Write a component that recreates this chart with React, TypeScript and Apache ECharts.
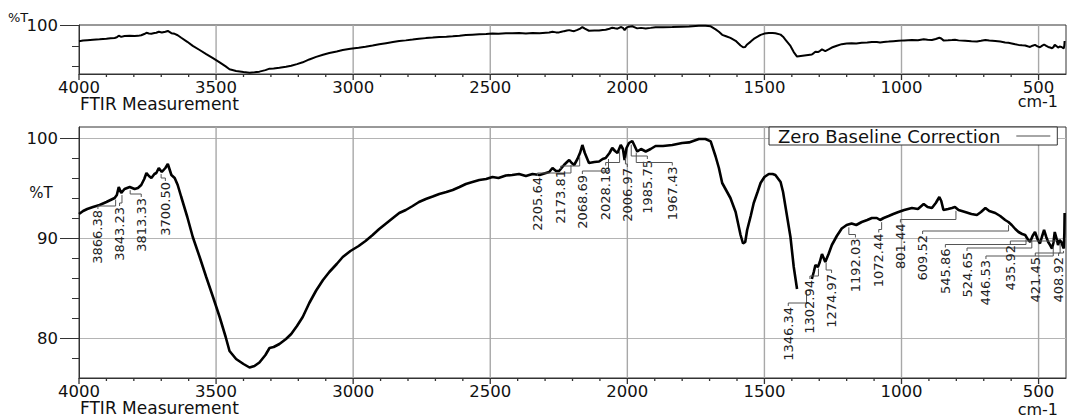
import React, { useEffect, useRef } from "react";
import * as echarts from "echarts";

// ---- spectrum (wavenumber cm-1, %T) ----
const wavenumbers: number[] = [
  4000, 3985, 3970, 3949, 3925, 3900, 3885, 3870, 3862, 3855, 3846, 3834, 3815, 3797, 3785, 3773,
  3762, 3754, 3745, 3736, 3725, 3718, 3709, 3698, 3685, 3676, 3663, 3651, 3640, 3627, 3605, 3585,
  3560, 3536, 3510, 3487, 3465, 3451, 3427, 3400, 3378, 3360, 3342, 3320, 3305, 3290, 3269, 3245,
  3226, 3205, 3184, 3160, 3135, 3110, 3087, 3060, 3038, 3010, 2980, 2955, 2929, 2905, 2880, 2855,
  2832, 2808, 2783, 2760, 2735, 2710, 2686, 2660, 2637, 2612, 2589, 2565, 2540, 2515, 2492, 2470,
  2443, 2420, 2395, 2370, 2346, 2320, 2297, 2285, 2273, 2260, 2249, 2240, 2231, 2220, 2212, 2203,
  2194, 2182, 2172, 2164, 2155, 2140, 2120, 2103, 2090, 2079, 2065, 2055, 2045, 2036, 2024, 2016,
  2010, 2003, 1994, 1982, 1975, 1964, 1950, 1933, 1915, 1897, 1870, 1836, 1800, 1775, 1739, 1715,
  1696, 1678, 1666, 1654, 1640, 1624, 1605, 1587, 1578, 1570, 1563, 1550, 1539, 1525, 1514, 1500,
  1484, 1470, 1460, 1441, 1432, 1423, 1414, 1405, 1393, 1381, 1365, 1327, 1320, 1314, 1305, 1298,
  1290, 1278, 1266, 1254, 1236, 1218, 1200, 1182, 1165, 1145, 1125, 1108, 1090, 1078, 1065, 1047,
  1030, 1011, 990, 962, 940, 919, 905, 889, 875, 862, 855, 847, 830, 816, 805, 792,
  768, 745, 725, 710, 694, 680, 658, 640, 622, 610, 598, 585, 573, 560, 549, 540,
  531, 522, 513, 504, 495, 488, 480, 472, 465, 458, 451, 446, 441, 435, 429, 423,
  417, 412, 408, 406, 405,
];
const transmittance: (number | null)[] = [
  92.4, 92.7, 92.9, 93.1, 93.3, 93.6, 93.8, 94.0, 94.3, 95.1, 94.5, 94.9, 95.1, 94.9, 95.0, 95.3,
  95.9, 96.5, 96.2, 96.0, 96.4, 96.5, 97.0, 96.6, 97.0, 97.4, 96.3, 96.0, 95.3, 94.1, 92.1, 90.1,
  88.1, 86.1, 84.0, 82.1, 80.1, 78.7, 77.9, 77.4, 77.05, 77.2, 77.55, 78.3, 79.0, 79.1, 79.4, 79.9,
  80.4, 81.2, 82.1, 83.5, 84.75, 85.8, 86.6, 87.4, 88.1, 88.7, 89.2, 89.7, 90.3, 90.9, 91.45, 92.0,
  92.5, 92.8, 93.2, 93.6, 93.9, 94.15, 94.4, 94.6, 94.8, 95.1, 95.4, 95.6, 95.8, 95.9, 96.1, 96.0,
  96.25, 96.3, 96.4, 96.2, 96.4, 96.3, 96.5, 96.6, 97.0, 96.7, 96.7, 97.0, 97.3, 97.6, 97.8, 97.5,
  97.3, 97.9, 98.55, 99.3, 98.5, 97.5, 97.6, 97.65, 97.9, 98.0, 98.5, 99.0, 98.7, 98.5, 99.3, 98.9,
  97.8, 99.0, 99.5, 99.7, 99.3, 98.65, 98.9, 98.65, 98.9, 99.2, 99.2, 99.3, 99.5, 99.56, 99.9, 99.9,
  99.66, 98.15, 97.0, 95.5, 94.8, 94.0, 92.6, 90.3, 89.45, 89.6, 90.8, 92.2, 93.5, 94.6, 95.5, 96.1,
  96.4, 96.4, 96.3, 95.6, 94.6, 93.1, 91.6, 90.1, 87.1, 84.9, null, 85.9, 86.6, 87.3, 87.1, 87.6,
  88.4, 87.6, 88.4, 89.3, 90.2, 90.95, 91.3, 91.45, 91.3, 91.6, 91.8, 92.0, 92.0, 91.8, 92.0, 92.2,
  92.4, 92.6, 92.8, 93.0, 92.9, 93.4, 93.1, 93.0, 93.5, 94.1, 93.7, 92.8, 92.9, 93.0, 93.1, 92.8,
  92.6, 92.4, 92.3, 92.6, 93.0, 92.7, 92.5, 92.2, 91.8, 91.6, 91.3, 90.9, 90.6, 90.4, 90.3, 89.9,
  89.6, 90.2, 90.6, 89.9, 89.45, 90.1, 90.8, 90.1, 89.6, 89.3, 88.95, 89.5, 90.6, 90.0, 89.3, 89.8,
  89.6, 89.2, 88.95, 90.5, 92.5,
];

// ---- peak picks ----
const peakWavenumbers: number[] = [
  3866.38, 3843.23, 3813.33, 3700.5,
  2205.64, 2173.81, 2068.69, 2028.18, 2006.97, 1985.75, 1967.43,
  1346.34, 1302.94, 1274.97, 1192.03, 1072.44, 801.44, 609.52, 545.86, 524.65, 446.53, 435.92,
  421.45, 408.92,
];
// label anchor (top end of the rotated label) in data units: [wavenumber, %T]
const peakLabelAnchors: [number, number][] = [
  [3931, 92.8], [3852, 93.1], [3773, 94.0], [3685, 95.6],
  [2328, 96.1], [2243, 96.8], [2164, 96.3], [2079, 97.15], [2000, 97.0], [1927, 97.8], [1836, 97.15],
  [1413, 83.1], [1334, 85.8], [1255, 86.4], [1168, 89.95], [1083, 90.45], [1004, 91.45], [923, 90.3],
  [840, 88.95], [761, 88.6], [692, 87.8], [603, 89.3], [512, 88.1], [427, 88.1],
];

// ---- axes ----
const xMajorTicks: number[] = [4000, 3500, 3000, 2500, 2000, 1500, 1000, 500];
const xGridLines: number[] = [3500, 3000, 2500, 2000, 1500, 1000, 500];
const xMinorTicks: number[] = [
  3900, 3800, 3700, 3600, 3400, 3300, 3200, 3100, 2900, 2800, 2700, 2600, 2400, 2300, 2200, 2100,
  1900, 1800, 1700, 1600, 1400, 1300, 1200, 1100, 900, 800, 700, 600,
];
const yMainTicks: number[] = [80, 90, 100];
const yMinorTicks: number[] = [78, 82, 84, 86, 88, 92, 94, 96, 98];
const overviewLabelTicks: number[] = [100];
const overviewMinorTicks: number[] = [80, 90];

const FONT = "DejaVu Sans";
const AXIS_COLOR = "#333";
const GRID_COLOR = "#b4b4b4";
const VGRID_COLOR = "#a8a8a8";

function curveAt(w: number): number {
  let prev: [number, number] | null = null;
  for (let i = 0; i < wavenumbers.length; i++) {
    const v = transmittance[i];
    if (v == null) continue;
    if (prev && w <= prev[0] && w >= wavenumbers[i]) {
      return prev[1] + ((v - prev[1]) * (prev[0] - w)) / (prev[0] - wavenumbers[i]);
    }
    prev = [wavenumbers[i], v];
  }
  return 90;
}

const plain = (v: number) => String(v);

export default function App() {
  const ref = useRef<HTMLDivElement>(null);
  useEffect(() => {
    if (!ref.current) return;
    const chart = echarts.init(ref.current, undefined, { renderer: "svg" });
    const spectrum = wavenumbers.map((w, i) => [w, transmittance[i]]);
    const peaks = peakWavenumbers.map((w, i) => [w, peakLabelAnchors[i][0], peakLabelAnchors[i][1], 0]);
    // kind 1: vertical grid line, kind 2: major x tick, kind 3: minor x tick
    const frameMarks = [
      ...xGridLines.map((w) => [w, 90, 90, 1]),
      ...xMajorTicks.map((w) => [w, 90, 90, 2]),
      ...xMinorTicks.map((w) => [w, 90, 90, 3]),
    ];

    const xAxisFor = (gridIndex: number) => ({
      type: "value",
      gridIndex,
      position: "bottom",
      min: 400,
      max: 4000,
      inverse: true,
      splitNumber: 7,
      splitLine: { show: false },
      axisLine: { show: true, onZero: false, lineStyle: { color: AXIS_COLOR } },
      axisTick: { show: false },
      axisLabel: { customValues: xMajorTicks, formatter: plain, fontSize: 16.5, fontFamily: FONT, color: "#111", margin: 6, lineHeight: 14 },
    });

    const annotate = (params: any, api: any) => {
      const kind = api.value(3);
      const cs = params.coordSys;
      if (kind >= 1) {
        const x = api.coord([api.value(0), api.value(1)])[0];
        if (kind === 1) {
          return {
            type: "rect",
            shape: { x: x - 0.7, y: cs.y, width: 1.4, height: cs.height },
            style: { fill: VGRID_COLOR, stroke: null },
          };
        }
        const len = kind === 2 ? 6 : 3;
        return {
          type: "rect",
          shape: { x: x - 0.65, y: cs.y + cs.height, width: 1.3, height: len },
          style: { fill: AXIS_COLOR, stroke: null },
        };
      }
      const pw = api.value(0);
      const lw = api.value(1);
      const lv = api.value(2);
      const cv = curveAt(pw);
      const p = api.coord([pw, cv]);
      const l = api.coord([lw, lv]);
      const elbowY = l[1] - 4;
      const endY = Math.max(p[1] + 3, elbowY - 12);
      const points = [
        [l[0], l[1] - 1],
        [l[0], elbowY],
        [p[0], elbowY],
        [p[0], endY],
      ];
      return {
        type: "group",
        children: [
          {
            type: "polyline",
            shape: { points },
            style: { stroke: "#555", lineWidth: 1, fill: "none" },
          },
          {
            type: "text",
            x: l[0],
            y: l[1],
            rotation: Math.PI / 2,
            style: {
              text: pw.toFixed(2),
              fill: "#222",
              fontSize: 13,
              fontFamily: FONT,
              align: "right",
              verticalAlign: "middle",
            },
          },
        ],
      };
    };

    const option: any = {
      animation: false,
      backgroundColor: "#fff",
      grid: [
        { left: 79, top: 25, width: 987, height: 49, show: true, borderColor: AXIS_COLOR, borderWidth: 1, backgroundColor: "transparent" },
        { left: 79, top: 127, width: 987, height: 251, show: true, borderColor: AXIS_COLOR, borderWidth: 1, backgroundColor: "transparent" },
      ],
      xAxis: [xAxisFor(0), xAxisFor(1)],
      yAxis: [
        {
          type: "value", gridIndex: 0, position: "left", min: 76.4, max: 100.3, splitNumber: 2,
          axisLine: { show: true, onZero: false, lineStyle: { color: AXIS_COLOR } },
          axisTick: { show: true, length: 19, customValues: overviewLabelTicks, lineStyle: { color: AXIS_COLOR } },
          axisLabel: { customValues: overviewLabelTicks, formatter: plain, fontSize: 16.5, fontFamily: FONT, color: "#111", margin: 21 },
          splitLine: { show: false },
        },
        {
          type: "value", gridIndex: 0, position: "left", min: 76.4, max: 100.3, splitNumber: 2,
          axisLine: { show: false, onZero: false },
          axisTick: { show: true, length: 7, customValues: overviewMinorTicks, lineStyle: { color: AXIS_COLOR } },
          axisLabel: { show: false },
          splitLine: { show: false },
        },
        {
          type: "value", gridIndex: 1, position: "left", min: 76, max: 101.1, splitNumber: 2,
          axisLine: { show: true, onZero: false, lineStyle: { color: AXIS_COLOR } },
          axisTick: { show: true, length: 19, customValues: yMainTicks, lineStyle: { color: AXIS_COLOR } },
          axisLabel: { customValues: yMainTicks, formatter: plain, fontSize: 16.5, fontFamily: FONT, color: "#111", margin: 21 },
          splitLine: { show: true, lineStyle: { color: GRID_COLOR, width: 1 } },
        },
        {
          type: "value", gridIndex: 1, position: "left", min: 76, max: 101.1, splitNumber: 2,
          axisLine: { show: false, onZero: false },
          axisTick: { show: true, length: 7, customValues: yMinorTicks, lineStyle: { color: AXIS_COLOR } },
          axisLabel: { show: false },
          splitLine: { show: false },
        },
      ],
      legend: {
        data: [{ name: "Zero Baseline Correction", icon: "rect" }],
        left: 769,
        top: 127,
        align: "right",
        itemWidth: 34,
        itemHeight: 1.5,
        padding: [0, 7, 0, 9],
        borderColor: AXIS_COLOR,
        borderWidth: 1,
        backgroundColor: "#fff",
        itemStyle: { color: "#888", borderWidth: 0 },
        lineStyle: { color: "#888" },
        textStyle: { fontSize: 18, fontFamily: FONT, color: "#111", lineHeight: 16, padding: [0, 11, 0, 0] },
        selectedMode: false,
      },
      series: [
        {
          name: "frameTop",
          type: "custom",
          xAxisIndex: 0,
          yAxisIndex: 0,
          data: frameMarks,
          clip: false,
          z: 3,
          renderItem: annotate,
        },
        {
          name: "frameBottom",
          type: "custom",
          xAxisIndex: 1,
          yAxisIndex: 2,
          data: frameMarks,
          clip: false,
          z: 3,
          renderItem: annotate,
        },
        {
          name: "overview",
          type: "line",
          xAxisIndex: 0,
          yAxisIndex: 0,
          data: spectrum,
          connectNulls: true,
          showSymbol: false,
          symbol: "none",
          lineStyle: { color: "#000", width: 2 },
          itemStyle: { color: "#000" },
          z: 5,
        },
        {
          name: "Zero Baseline Correction",
          type: "line",
          xAxisIndex: 1,
          yAxisIndex: 2,
          data: spectrum,
          connectNulls: false,
          showSymbol: false,
          symbol: "none",
          lineStyle: { color: "#000", width: 2.6 },
          itemStyle: { color: "#000" },
          z: 5,
        },
        {
          name: "peaks",
          type: "custom",
          xAxisIndex: 1,
          yAxisIndex: 2,
          data: peaks,
          clip: false,
          z: 6,
          renderItem: annotate,
        },
      ],
      graphic: [
        { type: "text", x: 8, y: 12, style: { text: "%T", fontSize: 13, fontFamily: FONT, fill: "#111", lineHeight: 10 } },
        { type: "text", x: 80, y: 104, style: { text: "FTIR Measurement", fontSize: 17, fontFamily: FONT, fill: "#111", verticalAlign: "middle", lineHeight: 12 } },
        { type: "text", x: 1058, y: 101, style: { text: "cm-1", fontSize: 16, fontFamily: FONT, fill: "#111", align: "right", verticalAlign: "middle", lineHeight: 11 } },
        { type: "text", x: 41, y: 193, style: { text: "%T", fontSize: 15, fontFamily: FONT, fill: "#111", align: "center", verticalAlign: "middle" } },
        { type: "text", x: 80, y: 408, style: { text: "FTIR Measurement", fontSize: 17, fontFamily: FONT, fill: "#111", verticalAlign: "middle", lineHeight: 12 } },
        { type: "text", x: 1058, y: 409, style: { text: "cm-1", fontSize: 16, fontFamily: FONT, fill: "#111", align: "right", verticalAlign: "middle", lineHeight: 11 } },
      ],
    };
    chart.setOption(option);
    return () => chart.dispose();
  }, []);
  return (
    <div
      ref={ref}
      style={{ position: "absolute", left: 0, top: 0, width: 1068, height: 417, background: "#fff" }}
    />
  );
}
